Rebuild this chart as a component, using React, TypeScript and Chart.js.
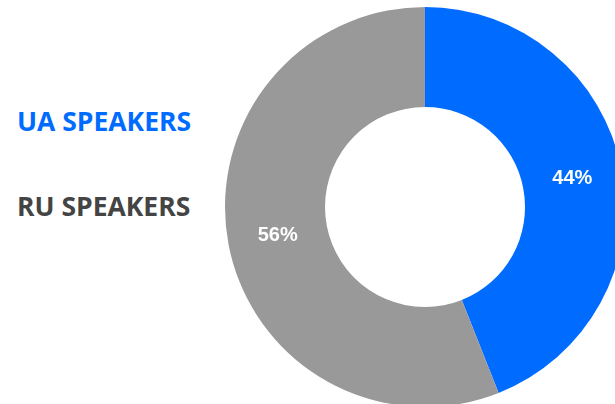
import React, { useEffect, useRef } from "react";
import { Chart, registerables } from "chart.js";

Chart.register(...registerables);

const categories = ["UA SPEAKERS", "RU SPEAKERS"];
const shares = [44, 56];
const sliceColors = ["#006BFF", "#999999"];
const legendColors = ["#006BFF", "#444444"];

const sliceLabels = {
  id: "sliceLabels",
  afterDatasetsDraw(chart: any) {
    const ctx = chart.ctx;
    const meta = chart.getDatasetMeta(0);
    const data = chart.data.datasets[0].data as number[];
    const total = data.reduce((a, b) => a + b, 0);
    ctx.save();
    ctx.fillStyle = "#ffffff";
    ctx.font = "bold 20px 'Liberation Sans', Arial, sans-serif";
    ctx.textAlign = "center";
    ctx.textBaseline = "middle";
    meta.data.forEach((arc: any, i: number) => {
      const p = arc.tooltipPosition();
      const pct = Math.round((data[i] / total) * 100) + "%";
      ctx.fillText(pct, p.x, p.y);
    });
    ctx.restore();
  },
};

export default function App() {
  const ref = useRef<HTMLCanvasElement | null>(null);
  useEffect(() => {
    if (!ref.current) return;
    const chart = new Chart(ref.current, {
      type: "doughnut",
      data: {
        labels: categories,
        datasets: [
          {
            data: shares,
            backgroundColor: sliceColors,
            borderWidth: 0,
          },
        ],
      },
      options: {
        animation: false,
        responsive: false,
        maintainAspectRatio: false,
        cutout: "50%",
        layout: { padding: 0 },
        plugins: {
          legend: { display: false },
          tooltip: { enabled: false },
        },
      },
      plugins: [sliceLabels],
    });
    return () => chart.destroy();
  }, []);

  return (
    <div
      style={{
        position: "fixed",
        left: 0,
        top: 0,
        width: 615,
        height: 404,
        overflow: "hidden",
        background: "#ffffff",
      }}
    >
      {categories.map((c, i) => (
        <div
          key={c}
          style={{
            position: "absolute",
            left: 17,
            top: i === 0 ? 108 : 193,
            fontFamily: "'Open Sans', sans-serif",
            fontWeight: 700,
            fontSize: 26.5,
            lineHeight: 1,
            color: legendColors[i],
            whiteSpace: "nowrap",
          }}
        >
          {c}
        </div>
      ))}
      <canvas
        ref={ref}
        width={400}
        height={400}
        style={{ position: "absolute", left: 225, top: 7, width: 400, height: 400 }}
      />
    </div>
  );
}
